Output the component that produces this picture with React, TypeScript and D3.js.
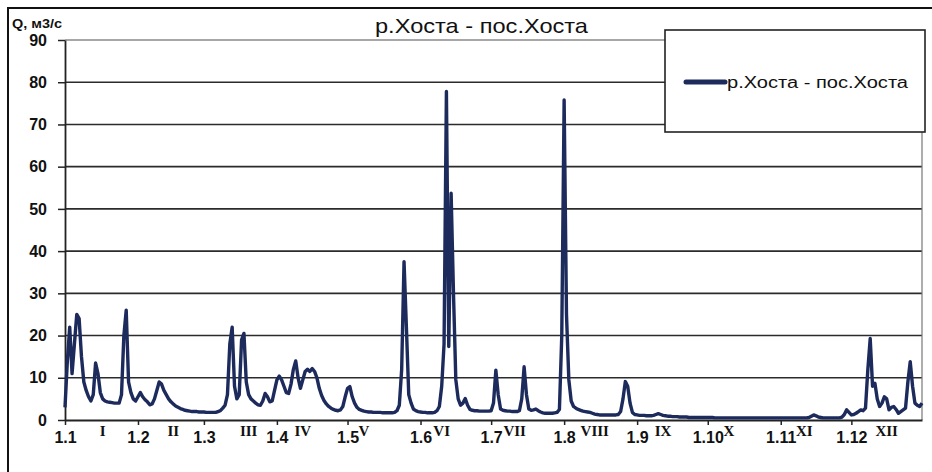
import { useEffect, useRef } from 'react';
import * as d3 from 'd3';

const title = 'р.Хоста - пос.Хоста';
const seriesName = 'р.Хоста - пос.Хоста';
const unitLabel = 'Q, м3/с';
const year = 2001;

const yTicks = [0, 10, 20, 30, 40, 50, 60, 70, 80, 90];
const monthTickLabels = ['1.1', '1.2', '1.3', '1.4', '1.5', '1.6', '1.7', '1.8', '1.9', '1.10', '1.11', '1.12'];
const romanLabels = ['I', 'II', 'III', 'IV', 'V', 'VI', 'VII', 'VIII', 'IX', 'X', 'XI', 'XII'];
// day of month each roman numeral is anchored to
const romanDays = [17, 16, 20, 12, 8, 10, 11, 14, 12, 10, 11, 16];

// daily discharge, m3/s, one array per month
const jan = [3, 14, 22, 11, 18, 25, 24, 15, 9, 7, 5.5, 4.5, 6, 13.5, 11, 6.5, 5, 4.5, 4.3, 4.2, 4.1, 4, 4, 4, 6, 20, 26, 9, 6.5, 5, 4.5];
const feb = [5.5, 6.5, 5.5, 4.8, 4.3, 3.6, 3.8, 5, 7, 9, 8.5, 7, 6, 5, 4.3, 3.8, 3.3, 3, 2.7, 2.5, 2.3, 2.2, 2.1, 2, 2, 2, 1.9, 1.9];
const mar = [1.9, 1.8, 1.8, 1.8, 1.8, 1.8, 2, 2.2, 2.8, 3.5, 6, 18, 22, 8, 5, 6, 19, 20.5, 9, 6, 5, 4.5, 4, 3.6, 3.5, 4.5, 6.3, 5.5, 4.3, 4.5, 7];
const apr = [9.5, 10.4, 9.5, 8, 6.5, 6.3, 8.5, 12, 14, 10, 7.5, 9.5, 11.5, 12, 11.5, 12.2, 11.5, 10, 7.5, 5.8, 4.6, 3.8, 3.2, 2.8, 2.5, 2.3, 2.2, 2.4, 3.2, 5.5];
const may = [7.5, 7.9, 5.5, 4, 3, 2.5, 2.3, 2.1, 2, 1.9, 1.9, 1.8, 1.8, 1.8, 1.8, 1.7, 1.7, 1.7, 1.7, 1.7, 1.8, 2.2, 3.5, 12, 37.5, 22, 6, 4, 2.6, 2.2, 2];
const jun = [1.9, 1.8, 1.8, 1.7, 1.7, 1.7, 1.8, 2.2, 3.2, 8, 18, 77.8, 17.4, 53.7, 30, 9.5, 5, 3.5, 4, 5.1, 3.5, 2.5, 2.3, 2.2, 2.2, 2.1, 2.1, 2.1, 2.1, 2.1];
const jul = [2.2, 4, 11.8, 6, 2.6, 2.3, 2.2, 2.1, 2.1, 2, 2, 2, 2.2, 5, 12.6, 6, 2.6, 2.3, 2.4, 2.6, 2.2, 1.9, 1.7, 1.6, 1.6, 1.6, 1.6, 1.7, 1.8, 2.5, 20];
const aug = [75.8, 25, 9.5, 4.5, 3.2, 2.8, 2.5, 2.3, 2.1, 2, 1.9, 1.8, 1.6, 1.4, 1.3, 1.2, 1.2, 1.2, 1.2, 1.2, 1.2, 1.2, 1.2, 1.3, 2, 5, 9.1, 8, 4, 1.8, 1.3];
const sep = [1.2, 1.1, 1.1, 1.1, 1, 1, 1, 1.1, 1.3, 1.5, 1.3, 1.1, 1, 0.9, 0.9, 0.8, 0.8, 0.8, 0.7, 0.7, 0.7, 0.7, 0.6, 0.6, 0.6, 0.6, 0.6, 0.6, 0.6, 0.6];
const oct = [0.6, 0.6, 0.6, 0.5, 0.5, 0.5, 0.5, 0.5, 0.5, 0.5, 0.5, 0.5, 0.5, 0.5, 0.5, 0.5, 0.5, 0.5, 0.5, 0.5, 0.5, 0.5, 0.5, 0.5, 0.5, 0.5, 0.5, 0.5, 0.5, 0.5, 0.5];
const nov = [0.5, 0.5, 0.5, 0.5, 0.5, 0.5, 0.5, 0.5, 0.5, 0.5, 0.5, 0.5, 0.6, 0.9, 1.2, 1, 0.7, 0.6, 0.5, 0.5, 0.5, 0.5, 0.5, 0.5, 0.5, 0.5, 0.7, 1.3, 2.4, 1.8];
const dec = [1.2, 1.3, 1.6, 2, 2.4, 2.2, 2.8, 12, 19.3, 8, 8.7, 5, 3.2, 4, 5.5, 5, 2.4, 3, 3.2, 2.5, 1.6, 2, 2.4, 2.8, 9, 13.8, 8, 4, 3.5, 3.2, 4];

const months = [jan, feb, mar, apr, may, jun, jul, aug, sep, oct, nov, dec];

export default function App() {
  const ref = useRef<SVGSVGElement>(null);

  useEffect(() => {
    const width = 932;
    const height = 472;
    const margin = { top: 40, right: 10, bottom: 52, left: 65 };
    const lineColor = '#1d2a5c';

    const data: { date: Date; value: number }[] = [];
    months.forEach((arr, m) => arr.forEach((v, i) => data.push({ date: new Date(year, m, i + 1), value: v })));

    const svg = d3.select(ref.current).attr('width', width).attr('height', height);
    svg.selectAll('*').remove();

    const x = d3.scaleTime()
      .domain([new Date(year, 0, 1), new Date(year, 11, 31)])
      .range([margin.left, width - margin.right]);
    const y = d3.scaleLinear().domain([0, 90]).range([height - margin.bottom, margin.top]);

    svg.append('rect').attr('width', width).attr('height', height).attr('fill', '#fff');
    // outer chart frame (runs off the page right and bottom)
    svg.append('rect')
      .attr('x', 8).attr('y', 8).attr('width', 940).attr('height', 480)
      .attr('fill', 'none').attr('stroke', '#111').attr('stroke-width', 2);

    // gridlines
    svg.append('g')
      .selectAll('line')
      .data(yTicks.filter(d => d > 0))
      .join('line')
      .attr('x1', margin.left).attr('x2', width - margin.right)
      .attr('y1', d => y(d)).attr('y2', d => y(d))
      .attr('stroke', d => (d === 90 ? '#8a8a8a' : '#2b2b2b'))
      .attr('stroke-width', 1.6);

    svg.append('line')
      .attr('x1', width - margin.right).attr('x2', width - margin.right)
      .attr('y1', y(90)).attr('y2', y(0))
      .attr('stroke', '#777').attr('stroke-width', 1.2);

    const yAxis = svg.append('g')
      .attr('transform', `translate(${margin.left},0)`)
      .call(d3.axisLeft(y).tickValues(yTicks).tickSize(7).tickPadding(11).tickSizeOuter(0));
    yAxis.select('.domain').attr('stroke', '#222').attr('stroke-width', 1.8);
    yAxis.selectAll('line').attr('stroke', '#222').attr('stroke-width', 1.5);
    yAxis.selectAll('text')
      .attr('font-family', 'Liberation Sans, Arial, sans-serif')
      .attr('font-size', 16).attr('font-weight', 'bold').attr('fill', '#111');

    const monthDates = d3.range(12).map(m => new Date(year, m, 1));
    const xAxis = svg.append('g')
      .attr('transform', `translate(0,${y(0)})`)
      .call(d3.axisBottom(x).tickValues(monthDates).tickFormat((_, i) => monthTickLabels[i]).tickSize(5).tickPadding(7).tickSizeOuter(0));
    xAxis.select('.domain').attr('stroke', '#222').attr('stroke-width', 2);
    xAxis.selectAll('line').attr('stroke', '#222').attr('stroke-width', 1.5);
    xAxis.selectAll('text')
      .attr('font-family', 'Liberation Sans, Arial, sans-serif')
      .attr('font-size', 16).attr('font-weight', 'bold').attr('fill', '#111');

    svg.append('g')
      .selectAll('text')
      .data(romanLabels)
      .join('text')
      .attr('x', (_, i) => x(new Date(year, i, romanDays[i])))
      .attr('y', 436)
      .attr('text-anchor', 'middle')
      .attr('font-family', 'Liberation Serif, Times New Roman, serif')
      .attr('font-size', 15).attr('font-weight', 'bold').attr('fill', '#111')
      .text(d => d);

    const line = d3.line<{ date: Date; value: number }>()
      .x(d => x(d.date))
      .y(d => y(d.value));

    svg.append('path')
      .datum(data)
      .attr('d', line)
      .attr('fill', 'none')
      .attr('stroke', lineColor)
      .attr('stroke-width', 3.4)
      .attr('stroke-linejoin', 'round');

    svg.append('text')
      .attr('x', 12).attr('y', 28)
      .attr('font-family', 'Liberation Sans, Arial, sans-serif')
      .attr('font-size', 12).attr('font-weight', 'bold').attr('fill', '#111')
      .attr('textLength', 50).attr('lengthAdjust', 'spacingAndGlyphs')
      .text(unitLabel);

    svg.append('text')
      .attr('x', 375).attr('y', 33)
      .attr('font-family', 'Liberation Sans, Arial, sans-serif')
      .attr('font-size', 21).attr('fill', '#111')
      .attr('textLength', 213).attr('lengthAdjust', 'spacingAndGlyphs')
      .text(title);

    // legend
    const legend = svg.append('g');
    legend.append('rect')
      .attr('x', 665).attr('y', 30).attr('width', 260).attr('height', 102)
      .attr('fill', '#fff').attr('stroke', '#222').attr('stroke-width', 1.6);
    legend.append('line')
      .attr('x1', 686).attr('x2', 725).attr('y1', 82).attr('y2', 82)
      .attr('stroke', lineColor).attr('stroke-width', 5).attr('stroke-linecap', 'round');
    legend.append('text')
      .attr('x', 727).attr('y', 88)
      .attr('font-family', 'Liberation Sans, Arial, sans-serif')
      .attr('font-size', 16).attr('fill', '#111')
      .attr('textLength', 181).attr('lengthAdjust', 'spacingAndGlyphs')
      .text(seriesName);
  }, []);

  return <svg ref={ref} style={{ position: 'absolute', left: 0, top: 0, display: 'block' }} />;
}
